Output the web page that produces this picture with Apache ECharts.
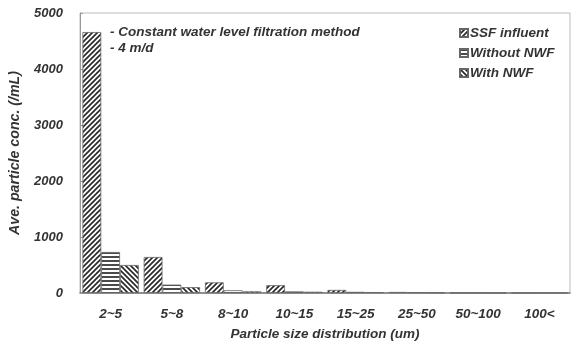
<!DOCTYPE html>
<html><head><meta charset="utf-8">
<script src="https://cdn.jsdelivr.net/npm/echarts@6/dist/echarts.min.js"></script>
<style>html,body{margin:0;padding:0;background:#fff}#c{width:573px;height:348px}</style>
</head><body><div id="c"></div>
<script>
const categories = ['2~5','5~8','8~10','10~15','15~25','25~50','50~100','100<'];
const ssfInfluent = [4660, 643, 190, 140, 55, 18, 4, 2];
const withoutNWF  = [732, 150, 50, 30, 20, 10, 3, 1];
const withNWF     = [500, 105, 30, 22, 15, 8, 2, 1];
const yTicks = [0, 1000, 2000, 3000, 4000, 5000];
const seriesNames = ['SSF influent', 'Without NWF', 'With NWF'];

function pattern(type) {
  const s = type === 'h' ? 4 : 5;
  const c = document.createElement('canvas');
  c.width = s; c.height = s;
  const g = c.getContext('2d');
  g.fillStyle = '#fff'; g.fillRect(0,0,s,s);
  g.strokeStyle = '#2a2a2a'; g.lineWidth = 1.7;
  g.beginPath();
  if (type === 'h') { g.moveTo(0, 1); g.lineTo(s, 1); }
  else if (type === 'f') { // "/"
    g.moveTo(0, s); g.lineTo(s, 0);
    g.moveTo(-1, 1); g.lineTo(1, -1);
    g.moveTo(s-1, s+1); g.lineTo(s+1, s-1);
  } else { // "\"
    g.moveTo(0, 0); g.lineTo(s, s);
    g.moveTo(s-1, -1); g.lineTo(s+1, 1);
    g.moveTo(-1, s-1); g.lineTo(1, s+1);
  }
  g.stroke();
  return c;
}
const font = 'Liberation Sans';
const txt = { fontFamily: font, fontStyle: 'italic', fontWeight: 'bold', color: '#333', fontSize: 13 };
const chart = echarts.init(document.getElementById('c'), null, { renderer: 'canvas' });
const data = [ssfInfluent, withoutNWF, withNWF];
const pats = ['f', 'h', 'b'];
chart.setOption({
  animation: false,
  grid: { left: 80, right: 3, top: 13, bottom: 55, show: true, borderColor: '#bbb', borderWidth: 1, outerBoundsMode: 'none', containLabel: false },
  legend: {
    data: seriesNames, orient: 'vertical', left: 454, top: 21, itemGap: 6,
    itemWidth: 8, itemHeight: 8, icon: 'rect',
    textStyle: Object.assign({}, txt, { fontSize: 13.5, padding: [0,0,0,-3] })
  },
  graphic: [
    { type: 'text', left: 110, top: 24, style: { text: '- Constant water level filtration method\n- 4 m/d', lineHeight: 16, font: 'italic bold 13.5px "Liberation Sans"', fill: '#333' } }
  ],
  xAxis: {
    type: 'category', data: categories,
    name: 'Particle size distribution (um)', nameLocation: 'middle', nameGap: 34,
    nameTextStyle: Object.assign({}, txt, { fontSize: 13.5 }),
    axisLine: { lineStyle: { color: '#777', width: 1.5 } },
    axisTick: { inside: true, length: 3, lineStyle: { color: '#777' } },
    axisLabel: Object.assign({}, txt, { margin: 14, fontSize: 13.5 })
  },
  yAxis: {
    type: 'value', min: yTicks[0], max: yTicks[yTicks.length-1], interval: 1000,
    name: 'Ave. particle conc. (/mL)', nameLocation: 'middle', nameGap: 58,
    nameTextStyle: Object.assign({}, txt, { fontSize: 14.2 }),
    axisLine: { show: true, lineStyle: { color: '#999', width: 1 } },
    axisTick: { show: true, inside: true, length: 3, lineStyle: { color: '#999' } },
    splitLine: { show: false },
    axisLabel: Object.assign({}, txt, { margin: 17, fontSize: 13, formatter: v => String(v) })
  },
  series: seriesNames.map((n, i) => ({
    name: n, type: 'bar', data: data[i],
    barGap: '0%', barCategoryGap: '8%',
    itemStyle: { color: { image: pattern(pats[i]), repeat: 'repeat' }, borderColor: '#666', borderWidth: 0.8 }
  }))
});
</script></body></html>
